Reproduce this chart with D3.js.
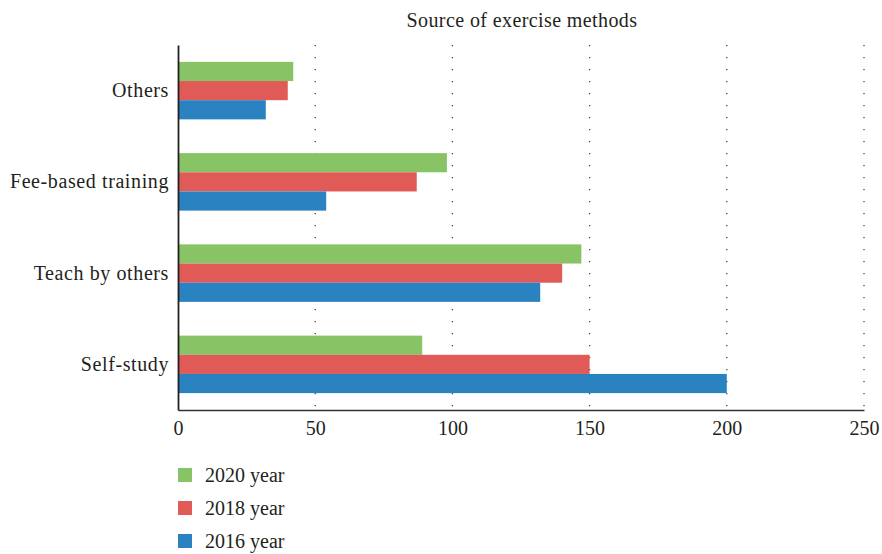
<!DOCTYPE html>
<html>
<head>
<meta charset="utf-8">
<script src="https://cdn.jsdelivr.net/npm/d3@7"></script>
<style>
  html, body { margin: 0; padding: 0; background: #fff; }
  svg { display: block; }
  text { font-family: "Liberation Serif", "DejaVu Serif", serif; fill: #231f20; }
</style>
</head>
<body>
<svg id="chart" width="882" height="554"></svg>
<script>
// Categories, listed top to bottom
const categories = ["Others", "Fee-based training", "Teach by others", "Self-study"];
// Series (drawn inside each category group: 2020 on top, then 2018, then 2016)
const seriesNames = ["2020 year", "2018 year", "2016 year"];
const values2020 = [42, 98, 147, 89];
const values2018 = [40, 87, 140, 150];
const values2016 = [32, 54, 132, 200];
const seriesColors = ["#88c366", "#e05a57", "#2a82c1"];
const xTicks = [0, 50, 100, 150, 200, 250];
const chartTitle = "Source of exercise methods";

const seriesValues = [values2020, values2018, values2016];
const FONT = '"Liberation Serif", "DejaVu Serif", serif';

const svg = d3.select("#chart");
const margin = { left: 178, right: 18, top: 45, bottom: 144 };
const W = 882, H = 554;
const x0 = margin.left, x1 = W - margin.right;
const y0 = margin.top, y1 = H - margin.bottom;

const x = d3.scaleLinear().domain([0, 250]).range([x0, x1]);
const y = d3.scaleBand().domain(categories).range([y0, y1]).paddingInner(0.37).paddingOuter(0.185);
const ySub = d3.scaleBand().domain(seriesNames).range([0, y.bandwidth()]);

// Title
svg.append("text")
  .attr("x", (x0 + x1) / 2 + 1)
  .attr("y", 27)
  .attr("text-anchor", "middle")
  .style("font-size", "20px")
  .style("letter-spacing", "0.4px")
  .text(chartTitle);

// Dotted vertical gridlines
svg.append("g")
  .selectAll("line")
  .data(xTicks.filter(t => t > 0))
  .join("line")
  .attr("x1", d => x(d)).attr("x2", d => x(d))
  .attr("y1", y0).attr("y2", y1)
  .attr("stroke", "#444")
  .attr("stroke-width", 1.3)
  .attr("stroke-dasharray", "1.3,10.7");

// Bars
const groups = svg.append("g")
  .selectAll("g")
  .data(categories)
  .join("g")
  .attr("transform", d => `translate(0,${y(d)})`);

groups.selectAll("rect")
  .data((c, i) => seriesNames.map((s, k) => ({ s, k, v: seriesValues[k][i] })))
  .join("rect")
  .attr("x", x(0))
  .attr("y", d => ySub(d.s))
  .attr("width", d => x(d.v) - x(0))
  .attr("height", ySub.bandwidth())
  .attr("fill", d => seriesColors[d.k]);

// Axes
const xAxis = d3.axisBottom(x).tickValues(xTicks).tickSize(0).tickPadding(11);
const gx = svg.append("g").attr("transform", `translate(0,${y1})`).call(xAxis);
gx.select(".domain").attr("stroke", "#333").attr("stroke-width", 1.6);
gx.selectAll("text").style("font-size", "20px").attr("fill", "#231f20")
  .style("font-family", FONT);

const yAxis = d3.axisLeft(y).tickSize(0).tickPadding(9);
const gy = svg.append("g").attr("transform", `translate(${x0},0)`).call(yAxis);
gy.select(".domain").attr("stroke", "#222").attr("stroke-width", 1.8);
gy.selectAll("text").style("font-size", "20px").style("letter-spacing", "0.6px")
  .attr("fill", "#231f20").style("font-family", FONT);

// Legend
const legend = svg.append("g")
  .selectAll("g")
  .data(seriesNames)
  .join("g")
  .attr("transform", (d, i) => `translate(178,${468 + i * 33})`);
legend.append("rect")
  .attr("width", 14).attr("height", 14)
  .attr("fill", (d, i) => seriesColors[i]);
legend.append("text")
  .attr("x", 27).attr("y", 14)
  .style("font-size", "20px")
  .text(d => d);
</script>
</body>
</html>
